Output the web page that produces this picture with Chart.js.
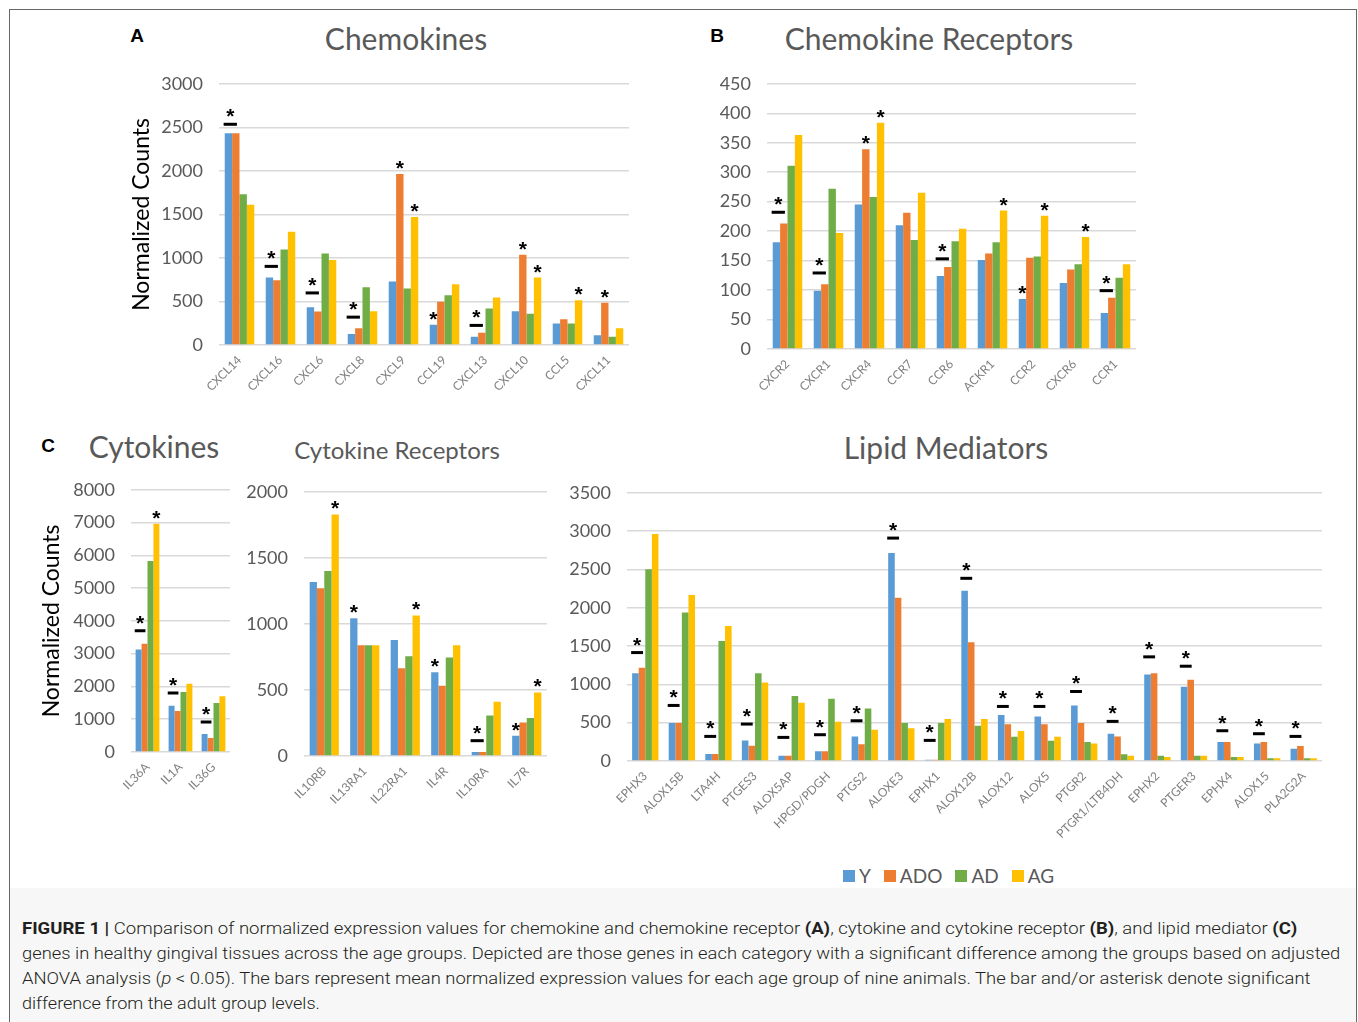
<!DOCTYPE html>
<html lang="en">
<head>
<meta charset="UTF-8">
<title>Figure 1</title>
<script src="https://cdn.jsdelivr.net/npm/chart.js@4.4.1/dist/chart.umd.min.js"></script>
<style>
    body {
        margin: 0;
        background: #ffffff;
        width: 1358px;
        height: 1022px;
        overflow: hidden;
        position: relative;
        font-family: Lato, "Open Sans", sans-serif;
    }
    .frame {
        position: absolute;
        left: 9px; top: 9px;
        width: 1346px; height: 1030px;
        border: 1px solid #666;
    }
    .caption-bg {
        position: absolute;
        left: 10px; top: 888px;
        width: 1346px; height: 140px;
        background: #f7f7f7;
    }
    .box { position: absolute; }
    .title {
        position: absolute;
        transform: translate(-50%, -50%);
        color: #595959;
        white-space: nowrap;
    }
    .letter {
        position: absolute;
        transform: translate(-50%, -50%);
        font: bold 19px "Liberation Sans", Arial, sans-serif;
        color: #000;
    }
    .legend {
        position: absolute;
        left: 843px; top: 864px;
        display: flex;
        align-items: center;
        font-size: 19px;
        color: #595959;
    }
    .legend span.sw {
        display: inline-block;
        width: 12px; height: 12px;
        margin-right: 4px;
    }
    .legend .item { display: flex; align-items: center; margin-right: 13px; }
    .cap {
        position: absolute;
        left: 22px;
        font: 300 17px Roboto, "Liberation Sans", sans-serif;
        color: #231f20;
        white-space: nowrap;
        transform-origin: left center;
    }
    .cap b { font-weight: 700; }
</style>
</head>
<body>
<div class="frame"></div>
<div class="caption-bg"></div>

<div class="letter" style="left:137px;top:36px">A</div>
<div class="letter" style="left:717px;top:36px">B</div>
<div class="letter" style="left:48px;top:446px">C</div>

<div class="title" style="left:406px;top:38px;font-size:30px">Chemokines</div>
<div class="title" style="left:929px;top:38px;font-size:30px">Chemokine Receptors</div>
<div class="title" style="left:154px;top:446px;font-size:30px">Cytokines</div>
<div class="title" style="left:397px;top:449px;font-size:24px">Cytokine Receptors</div>
<div class="title" style="left:946px;top:447px;font-size:30px">Lipid Mediators</div>

<div class="box" style="left:120px;top:57px"><canvas id="chartA" width="514" height="343"></canvas></div>
<div class="box" style="left:680px;top:57px"><canvas id="chartB" width="464" height="347"></canvas></div>
<div class="box" style="left:30px;top:463px"><canvas id="chartC1" width="204" height="339"></canvas></div>
<div class="box" style="left:235px;top:465px"><canvas id="chartC2" width="316" height="341"></canvas></div>
<div class="box" style="left:560px;top:466px"><canvas id="chartC3" width="770" height="380"></canvas></div>

<div class="legend" id="legend"></div>

<div class="cap" data-w="1275" style="top:918px"><b>FIGURE 1 |</b> Comparison of normalized expression values for chemokine and chemokine receptor <b>(A)</b>, cytokine and cytokine receptor <b>(B)</b>, and lipid mediator <b>(C)</b></div>
<div class="cap" data-w="1318" style="top:943px">genes in healthy gingival tissues across the age groups. Depicted are those genes in each category with a significant difference among the groups based on adjusted</div>
<div class="cap" data-w="1288" style="top:968px">ANOVA analysis (<i>p</i> &lt; 0.05). The bars represent mean normalized expression values for each age group of nine animals. The bar and/or asterisk denote significant</div>
<div class="cap" data-w="298" style="top:993px">difference from the adult group levels.</div>

<script>
// age groups
const groups = ['Y', 'ADO', 'AD', 'AG'];
const groupColors = ['#5b9bd5', '#ed7d31', '#70ad47', '#ffc000'];

// A - chemokines
const chemokines = ['CXCL14', 'CXCL16', 'CXCL6', 'CXCL8', 'CXCL9', 'CCL19', 'CXCL13', 'CXCL10', 'CCL5', 'CXCL11'];
const chemokinesY   = [2432, 774, 435, 126, 728, 233, 95, 389, 248, 111];
const chemokinesADO = [2432, 743, 385, 191, 1963, 496, 141, 1037, 297, 484];
const chemokinesAD  = [1731, 1098, 1052, 663, 648, 572, 419, 358, 248, 95];
const chemokinesAG  = [1612, 1300, 976, 389, 1471, 698, 545, 774, 515, 191];
const chemokinesBar = [2535, 903, 598, 320, null, null, 225, null, null, null];
const chemokinesStars = [[0,0],[1,0],[2,0],[3,0],[4,1],[4,3],[5,0],[6,0],[7,1],[7,3],[8,3],[9,1]];

// B - chemokine receptors
const receptors = ['CXCR2', 'CXCR1', 'CXCR4', 'CCR7', 'CCR6', 'ACKR1', 'CCR2', 'CXCR6', 'CCR1'];
const receptorsY   = [181, 99, 245, 210, 124, 151, 85, 112, 61];
const receptorsADO = [213, 110, 339, 231, 139, 162, 155, 135, 87];
const receptorsAD  = [311, 272, 258, 185, 183, 181, 157, 144, 121];
const receptorsAG  = [363, 197, 384, 265, 204, 235, 226, 190, 144];
const receptorsBar = [232, 129, null, null, 153, null, null, null, 99];
const receptorsStars = [[0,0],[1,0],[2,1],[2,3],[4,0],[5,3],[6,0],[6,3],[7,3],[8,0]];

// C - cytokines
const cytokines = ['IL36A', 'IL1A', 'IL36G'];
const cytokinesY   = [3131, 1413, 549];
const cytokinesADO = [3304, 1250, 427];
const cytokinesAD  = [5824, 1830, 1494];
const cytokinesAG  = [6963, 2084, 1698];
const cytokinesBar = [3700, 1800, 915];
const cytokinesStars = [[0,0],[0,3],[1,0],[2,0]];

// C - cytokine receptors
const cytoRec = ['IL10RB', 'IL13RA1', 'IL22RA1', 'IL4R', 'IL10RA', 'IL7R'];
const cytoRecY   = [1318, 1042, 878, 634, 30, 153];
const cytoRecADO = [1270, 838, 664, 531, 30, 254];
const cytoRecAD  = [1401, 838, 755, 745, 307, 287];
const cytoRecAG  = [1829, 838, 1064, 838, 410, 481];
const cytoRecBar = [null, null, null, null, 116, null];
const cytoRecStars = [[0,3],[1,0],[2,3],[3,0],[4,0],[5,0],[5,3]];

// C - lipid mediators
const lipids = ['EPHX3', 'ALOX15B', 'LTA4H', 'PTGES3', 'ALOX5AP', 'HPGD/PDGH', 'PTGS2', 'ALOXE3', 'EPHX1', 'ALOX12B',
                'ALOX12', 'ALOX5', 'PTGR2', 'PTGR1/LTB4DH', 'EPHX2', 'PTGER3', 'EPHX4', 'ALOX15', 'PLA2G2A'];
const lipidsY   = [1146, 495, 91, 269, 69, 126, 321, 2714, 17, 2223, 599, 582, 725, 356, 1129, 968, 247, 230, 161];
const lipidsADO = [1216, 495, 91, 200, 69, 126, 217, 2132, 17, 1550, 478, 478, 495, 321, 1146, 1059, 247, 247, 195];
const lipidsAD  = [2501, 1937, 1567, 1146, 847, 812, 686, 495, 495, 460, 317, 265, 247, 87, 69, 69, 52, 35, 35];
const lipidsAG  = [2961, 2167, 1763, 1025, 760, 512, 408, 426, 547, 547, 391, 317, 230, 69, 52, 69, 52, 35, 35];
const lipidsBar = [1415, 725, 321, 482, 308, 343, 525, 2909, 269, 2384, 712, 712, 907, 517, 1359, 1237, 395, 356, 321];
const lipidsStars = lipids.map((_, i) => [i, 0]);

// draws the significance bar (over the Y bar) and the asterisks
const sigPlugin = {
    id: 'sig',
    afterDatasetsDraw(chart) {
        const sig = chart.options.plugins.sig;
        if (!sig) return;
        const ctx = chart.ctx;
        const y = chart.scales.y;
        ctx.save();
        ctx.fillStyle = '#000';
        const lineAt = {};
        sig.bars.forEach((v, i) => {
            if (v == null) return;
            const b = chart.getDatasetMeta(0).data[i];
            const cx = b.x + b.width * 0.25;
            const w = b.width * 1.8;
            const py = y.getPixelForValue(v);
            ctx.fillRect(cx - w / 2, py - 1.5, w, 3);
            lineAt[i] = { x: cx, y: py };
        });
        ctx.font = 'bold 21px "Liberation Sans", Arial, sans-serif';
        ctx.textAlign = 'center';
        ctx.textBaseline = 'alphabetic';
        sig.stars.forEach(([i, ds]) => {
            let sx, sy;
            if (ds === 0 && lineAt[i]) {
                sx = lineAt[i].x;
                sy = lineAt[i].y - 13;
            } else {
                const b = chart.getDatasetMeta(ds).data[i];
                sx = b.x;
                sy = b.y - 11;
            }
            ctx.fillText('*', sx, sy + 12);
        });
        ctx.restore();
    }
};

function makeChart(id, labels, series, bars, stars, yMax, yStep, yWidth, xHeight, padRight, yTitle) {
    const ctx = document.getElementById(id).getContext('2d');
    return new Chart(ctx, {
        type: 'bar',
        data: {
            labels: labels,
            datasets: series.map((s, k) => ({
                label: groups[k],
                data: s,
                backgroundColor: groupColors[k],
                borderWidth: 0,
                barPercentage: 1.0,
                categoryPercentage: 0.72
            }))
        },
        options: {
            responsive: false,
            animation: false,
            layout: { padding: { top: 7, right: padRight, left: 0, bottom: 0 } },
            plugins: {
                legend: { display: false },
                tooltip: { enabled: false },
                sig: { bars: bars, stars: stars }
            },
            scales: {
                x: {
                    grid: { display: false, drawTicks: false },
                    border: { display: false },
                    ticks: {
                        color: '#7f7f7f',
                        font: { family: 'Lato', size: 12 },
                        minRotation: 45,
                        maxRotation: 45,
                        autoSkip: false,
                        padding: 8
                    },
                    afterFit: s => { s.height = xHeight; }
                },
                y: {
                    min: 0,
                    max: yMax,
                    grid: { color: '#d9d9d9', lineWidth: 1.5, drawTicks: false },
                    border: { display: false },
                    ticks: {
                        stepSize: yStep,
                        color: '#595959',
                        font: { family: 'Lato', size: 18 },
                        padding: 16,
                        callback: v => String(v)
                    },
                    title: {
                        display: !!yTitle,
                        text: yTitle || '',
                        color: '#000',
                        font: { family: 'Lato', size: 23 },
                        padding: { top: 8, bottom: 0 }
                    },
                    afterFit: s => { s.width = yWidth; }
                }
            }
        },
        plugins: [sigPlugin]
    });
}

function buildLegend() {
    const el = document.getElementById('legend');
    groups.forEach((g, k) => {
        const item = document.createElement('div');
        item.className = 'item';
        item.innerHTML = '<span class="sw" style="background:' + groupColors[k] + '"></span>' + g;
        el.appendChild(item);
    });
}

function fitCaption() {
    document.querySelectorAll('.cap').forEach(el => {
        const target = parseFloat(el.dataset.w);
        const w = el.scrollWidth;
        if (w > 0) el.style.transform = 'scaleX(' + (target / w) + ')';
    });
}

function draw() {
    makeChart('chartA', chemokines, [chemokinesY, chemokinesADO, chemokinesAD, chemokinesAG],
        chemokinesBar, chemokinesStars, 3000, 500, 99, 55, 5, 'Normalized Counts');
    makeChart('chartB', receptors, [receptorsY, receptorsADO, receptorsAD, receptorsAG],
        receptorsBar, receptorsStars, 450, 50, 87, 55, 8, null);
    makeChart('chartC1', cytokines, [cytokinesY, cytokinesADO, cytokinesAD, cytokinesAG],
        cytokinesBar, cytokinesStars, 8000, 1000, 101, 50, 4, 'Normalized Counts');
    makeChart('chartC2', cytoRec, [cytoRecY, cytoRecADO, cytoRecAD, cytoRecAG],
        cytoRecBar, cytoRecStars, 2000, 500, 69, 50, 4, null);
    makeChart('chartC3', lipids, [lipidsY, lipidsADO, lipidsAD, lipidsAG],
        lipidsBar, lipidsStars, 3500, 500, 67, 85, 8, null);
    buildLegend();
    fitCaption();
}

if (document.fonts && document.fonts.ready) {
    document.fonts.load('18px Lato').then(draw, draw);
} else {
    draw();
}
</script>
</body>
</html>
